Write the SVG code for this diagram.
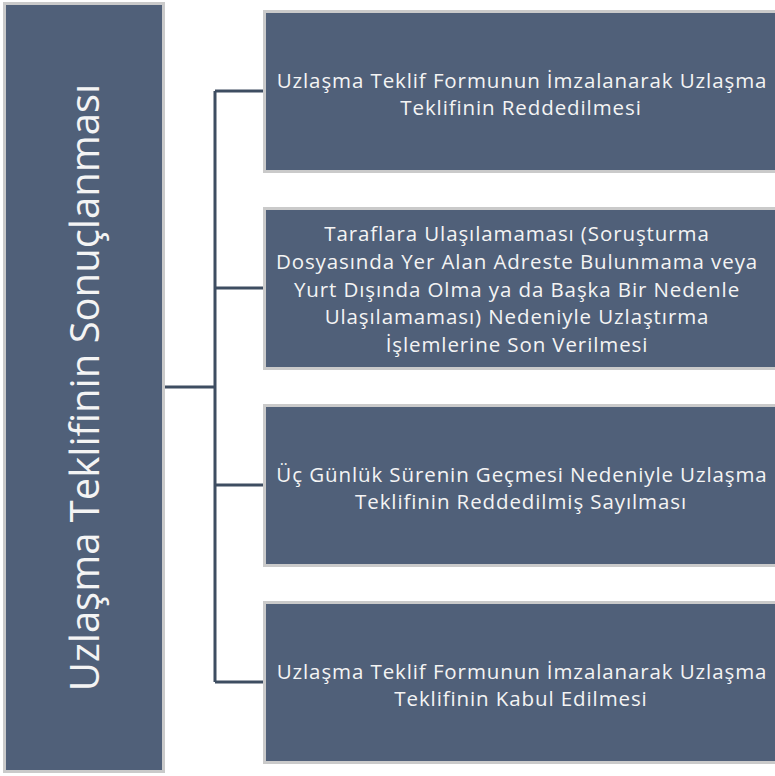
<svg xmlns="http://www.w3.org/2000/svg" width="775" height="776" viewBox="0 0 775 776">
<style>
.box{fill:#506079;stroke:#cacaca;stroke-width:3}
.t{font-family:"Open Sans","Liberation Sans",sans-serif;font-size:20.5px;letter-spacing:0.9px;fill:#f4f4f4;text-anchor:middle}
.big{font-family:"Open Sans","Liberation Sans",sans-serif;font-size:40px;fill:#f4f4f4;text-anchor:middle}
.c{stroke:#3e4d61;stroke-width:3;fill:none}
</style>
<rect width="775" height="776" fill="#ffffff"/>
<g id="connectors">
<path class="c" d="M165 387H215M215 91V682M215 91H263M215 288H263M215 485H263M215 682H263"/>
</g>
<g id="root">
<rect class="box" x="4.5" y="3.5" width="159" height="768"/>
<text class="big" transform="translate(99 387.5) rotate(-90)">Uzlaşma Teklifinin Sonuçlanması</text>
</g>
<g id="n1">
<rect class="box" x="264.5" y="11.5" width="520" height="160"/>
<text class="t" x="522" y="88">Uzlaşma Teklif Formunun İmzalanarak Uzlaşma</text>
<text class="t" x="521" y="115">Teklifinin Reddedilmesi</text>
</g>
<g id="n2">
<rect class="box" x="264.5" y="208.5" width="520" height="160"/>
<text class="t" x="517" y="241">Taraflara Ulaşılamaması (Soruşturma</text>
<text class="t" x="517" y="269">Dosyasında Yer Alan Adreste Bulunmama veya</text>
<text class="t" x="517" y="297">Yurt Dışında Olma ya da Başka Bir Nedenle</text>
<text class="t" x="517" y="324">Ulaşılamaması) Nedeniyle Uzlaştırma</text>
<text class="t" x="517" y="352">İşlemlerine Son Verilmesi</text>
</g>
<g id="n3">
<rect class="box" x="264.5" y="405.5" width="520" height="160"/>
<text class="t" x="522" y="482">Üç Günlük Sürenin Geçmesi Nedeniyle Uzlaşma</text>
<text class="t" x="521" y="509">Teklifinin Reddedilmiş Sayılması</text>
</g>
<g id="n4">
<rect class="box" x="264.5" y="602.5" width="520" height="160"/>
<text class="t" x="522" y="679">Uzlaşma Teklif Formunun İmzalanarak Uzlaşma</text>
<text class="t" x="521" y="706">Teklifinin Kabul Edilmesi</text>
</g>
</svg>
